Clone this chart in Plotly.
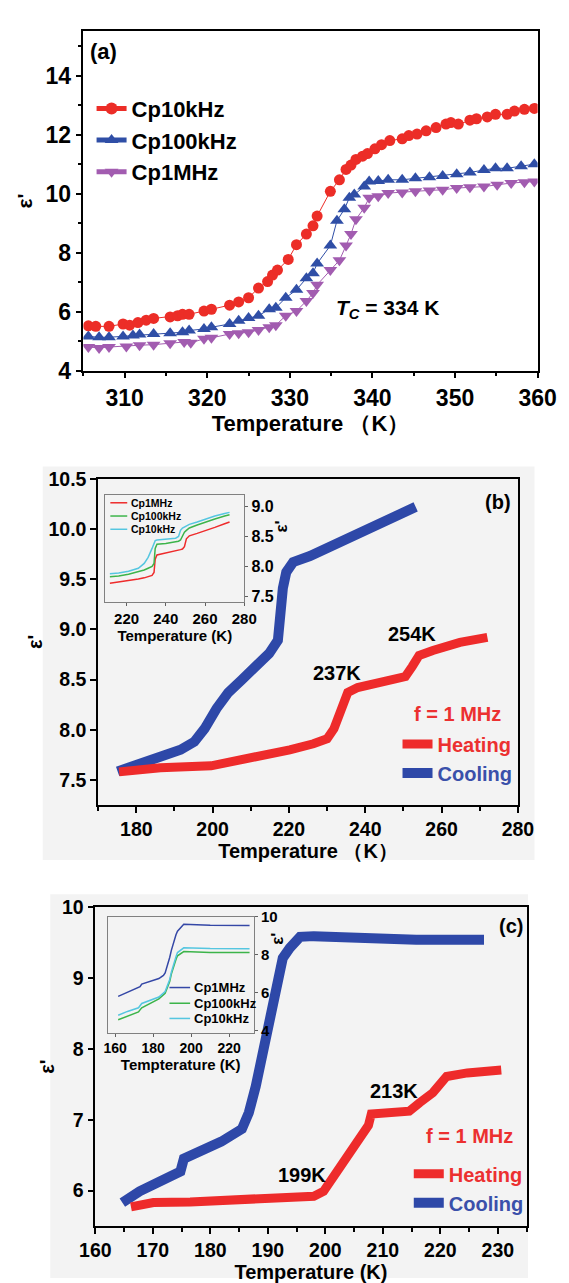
import plotly.graph_objects as go

FONT = "Liberation Sans, Arial, sans-serif"

# ---------------- Panel (a): epsilon' vs T at three frequencies ----------------
a_t_10k = [305.6, 306.5, 308.1, 309.8, 310.6, 311.6, 312.6, 313.5, 315.5, 316.4, 317.0, 317.8,
           319.6, 320.5, 322.7, 323.8, 325.0, 326.2, 327.3, 327.9, 328.5, 329.8, 330.8, 332.0,
           332.8, 333.3, 334.9, 336.0, 336.8, 337.4, 338.0, 338.8, 339.4, 340.3, 341.1, 342.1,
           343.6, 344.4, 345.4, 346.5, 347.7, 348.9, 349.5, 350.4, 351.8, 352.6, 353.9, 354.9,
           356.3, 357.2, 358.4, 359.6]
a_eps_10k = [5.52, 5.50, 5.50, 5.58, 5.54, 5.63, 5.71, 5.77, 5.82, 5.86, 5.91, 5.91,
             6.02, 6.08, 6.22, 6.33, 6.47, 6.80, 7.02, 7.24, 7.41, 7.77, 8.27, 8.63,
             8.91, 9.24, 10.08, 10.47, 10.82, 10.97, 11.16, 11.27, 11.36, 11.52, 11.66, 11.80,
             11.86, 11.97, 12.02, 12.13, 12.24, 12.36, 12.41, 12.36, 12.49, 12.54, 12.60, 12.69,
             12.69, 12.80, 12.86, 12.89]

a_t_100k = [305.6, 306.9, 308.1, 309.8, 311.0, 311.8, 313.5, 315.5, 317.0, 317.8, 319.6, 320.5,
            322.7, 323.8, 325.0, 326.2, 327.5, 328.3, 329.5, 330.8, 332.0, 332.8, 333.3, 334.9,
            335.7, 336.6, 337.2, 337.8, 339.0, 339.6, 340.7, 341.9, 343.6, 345.2, 346.9, 348.5,
            350.2, 351.8, 353.5, 354.9, 356.3, 358.0, 359.6]
a_eps_100k = [5.16, 5.13, 5.13, 5.16, 5.19, 5.22, 5.24, 5.27, 5.30, 5.36, 5.41, 5.47,
              5.58, 5.69, 5.78, 5.86, 6.08, 6.13, 6.47, 6.74, 7.13, 7.30, 7.63, 8.24,
              9.08, 9.47, 9.86, 9.97, 10.24, 10.41, 10.43, 10.47, 10.47, 10.52, 10.56, 10.60,
              10.66, 10.72, 10.80, 10.86, 10.86, 10.93, 11.00]

a_t_1m = [305.6, 306.9, 308.1, 310.2, 311.8, 313.5, 315.5, 317.2, 318.0, 319.6, 320.5, 322.7,
          323.8, 325.0, 326.2, 327.5, 328.3, 329.5, 330.8, 332.0, 332.8, 333.3, 334.9, 336.0,
          336.8, 337.4, 338.0, 339.0, 339.6, 340.7, 341.9, 343.6, 345.2, 346.9, 348.5, 350.2,
          351.8, 353.5, 355.1, 356.8, 358.4, 359.6]
a_eps_1m = [4.80, 4.77, 4.80, 4.82, 4.86, 4.88, 4.93, 4.97, 4.94, 5.08, 5.11, 5.24,
            5.27, 5.30, 5.38, 5.47, 5.54, 5.86, 6.02, 6.36, 6.63, 6.91, 7.41, 7.74,
            8.24, 8.63, 9.13, 9.52, 9.86, 9.91, 10.02, 10.04, 10.08, 10.11, 10.13, 10.19,
            10.22, 10.24, 10.30, 10.36, 10.39, 10.41]

# ---------------- Panel (b): heating / cooling at 1 MHz ----------------
b_t_cool = [175.1, 180.0, 186.3, 191.6, 195.2, 197.9, 201.0, 204.1, 207.7, 211.3, 214.8, 217.1,
            217.5, 218.4, 219.3, 221.1, 225.5, 230.9, 236.3, 241.6, 247.0, 253.2]
b_eps_cool = [7.585, 7.65, 7.72, 7.80, 7.88, 8.01, 8.21, 8.37, 8.50, 8.63, 8.76, 8.89,
              9.15, 9.41, 9.57, 9.67, 9.73, 9.83, 9.93, 10.03, 10.12, 10.22]
b_t_heat = [175.5, 186.3, 199.6, 204.1, 213.0, 220.2, 226.4, 230.0, 231.8, 233.6, 235.4, 238.0,
            244.3, 250.5, 252.3, 254.1, 257.7, 264.8, 272.0]
b_eps_heat = [7.58, 7.62, 7.64, 7.67, 7.73, 7.80, 7.86, 7.91, 8.01, 8.21, 8.37, 8.42,
              8.47, 8.53, 8.63, 8.74, 8.79, 8.87, 8.92]

# inset (b)
bi_names = ["Cp1MHz", "Cp100kHz", "Cp10kHz"]
bi_t = [211.5, 216, 221, 226, 229, 231, 233, 234, 234.6, 235.5, 240, 245, 246.5, 247.5,
        248.5, 249.5, 250.5, 252, 256, 260, 265, 270, 272.5]
bi_eps_1m = [7.72, 7.74, 7.76, 7.79, 7.81, 7.83, 7.85, 7.90, 8.12, 8.19, 8.22, 8.26, 8.27, 8.28,
             8.29, 8.33, 8.46, 8.51, 8.55, 8.60, 8.65, 8.71, 8.74]
bi_eps_100k = [7.83, 7.84, 7.87, 7.91, 7.94, 7.97, 8.00, 8.05, 8.30, 8.37, 8.38, 8.41, 8.42, 8.44,
               8.52, 8.57, 8.60, 8.64, 8.69, 8.74, 8.79, 8.84, 8.86]
bi_eps_10k = [7.88, 7.89, 7.92, 7.97, 8.05, 8.15, 8.30, 8.40, 8.43, 8.44, 8.45, 8.47, 8.50, 8.60,
              8.64, 8.66, 8.68, 8.70, 8.74, 8.79, 8.84, 8.88, 8.90]

# ---------------- Panel (c): heating / cooling at 1 MHz ----------------
c_t_cool = [164.7, 167.7, 171.3, 174.8, 175.4, 178.4, 181.9, 185.5, 186.7, 187.9, 189.7, 191.4,
            192.6, 193.8, 195.6, 198.0, 206.9, 215.8, 227.6]
c_eps_cool = [5.83, 5.99, 6.13, 6.27, 6.45, 6.55, 6.69, 6.87, 7.10, 7.47, 8.12, 8.77,
              9.28, 9.42, 9.58, 9.59, 9.56, 9.54, 9.54]
c_t_heat = [166.2, 170.1, 176.5, 187.1, 198.0, 199.7, 202.1, 204.5, 206.3, 207.5, 208.0, 211.6,
            214.6, 216.4, 218.7, 221.1, 224.7, 230.6]
c_eps_heat = [5.77, 5.83, 5.84, 5.87, 5.92, 5.99, 6.27, 6.55, 6.73, 6.92, 7.08, 7.10,
              7.12, 7.24, 7.38, 7.61, 7.66, 7.70]

# inset (c)
ci_names = ["Cp1MHz", "Cp100kHz", "Cp10kHz"]
ci_t = [161.6, 166.5, 172.3, 173.1, 174.0, 183.0, 185.4, 186.3, 188.7, 189.6, 192.0, 192.8,
        196.1, 210.0, 230.7]
ci_eps_1m = [5.81, 6.02, 6.28, 6.32, 6.46, 6.75, 6.92, 7.05, 7.86, 8.25, 9.06, 9.25,
             9.61, 9.56, 9.54]
ci_eps_100k = [4.58, 4.78, 4.99, 5.10, 5.21, 5.68, 5.90, 5.98, 6.60, 7.00, 7.75, 7.95,
               8.17, 8.12, 8.12]
ci_eps_10k = [4.82, 5.02, 5.21, 5.33, 5.44, 5.78, 6.00, 6.07, 6.70, 7.10, 7.90, 8.12,
              8.37, 8.33, 8.32]

RED = "#ec2d27"
BLUE = "#2f4ea6"
PURPLE = "#a25cb0"
H_RED = "#ee2b2b"
C_BLUE = "#2e48a8"
G_GREEN = "#3cb44a"
CYAN = "#55c6e0"
BI_COLORS = [H_RED, G_GREEN, CYAN]
CI_COLORS = ["#3447a6", G_GREEN, CYAN]

W, H = 569, 1283


def px_x(p):
    return p / W


def px_y(p):
    return 1 - p / H


fig = go.Figure()

# Panel (a)
fig.add_trace(go.Scatter(x=a_t_1m, y=a_eps_1m, name="Cp1MHz", mode="lines+markers",
                         line=dict(color=PURPLE, width=1),
                         marker=dict(symbol="triangle-down", size=12, color=PURPLE),
                         xaxis="x", yaxis="y", legend="legend", legendrank=3))
fig.add_trace(go.Scatter(x=a_t_100k, y=a_eps_100k, name="Cp100kHz", mode="lines+markers",
                         line=dict(color=BLUE, width=1),
                         marker=dict(symbol="triangle-up", size=12, color=BLUE),
                         xaxis="x", yaxis="y", legend="legend", legendrank=2))
fig.add_trace(go.Scatter(x=a_t_10k, y=a_eps_10k, name="Cp10kHz", mode="lines+markers",
                         line=dict(color=RED, width=1),
                         marker=dict(symbol="circle", size=11, color=RED),
                         xaxis="x", yaxis="y", legend="legend", legendrank=1))

# Panel (b) main
fig.add_trace(go.Scatter(x=b_t_cool, y=b_eps_cool, name="<span style='color:#3a50aa'>Cooling</span>",
                         mode="lines", line=dict(color=C_BLUE, width=10),
                         xaxis="x2", yaxis="y2", legend="legend2", legendrank=2))
fig.add_trace(go.Scatter(x=b_t_heat, y=b_eps_heat, name="<span style='color:#ec3030'>Heating</span>",
                         mode="lines", line=dict(color=H_RED, width=9),
                         xaxis="x2", yaxis="y2", legend="legend2", legendrank=1))
# inset (b)
for vals, nm, col in zip([bi_eps_1m, bi_eps_100k, bi_eps_10k], bi_names, BI_COLORS):
    fig.add_trace(go.Scatter(x=bi_t, y=vals, name=nm, mode="lines", showlegend=False,
                             line=dict(color=col, width=1.5), xaxis="x3", yaxis="y3"))

# Panel (c) main
fig.add_trace(go.Scatter(x=c_t_cool, y=c_eps_cool, name="<span style='color:#3a50aa'>Cooling</span>",
                         mode="lines", line=dict(color=C_BLUE, width=10),
                         xaxis="x4", yaxis="y4", legend="legend5", legendrank=2))
fig.add_trace(go.Scatter(x=c_t_heat, y=c_eps_heat, name="<span style='color:#ec3030'>Heating</span>",
                         mode="lines", line=dict(color=H_RED, width=9),
                         xaxis="x4", yaxis="y4", legend="legend5", legendrank=1))
# inset (c)
for vals, nm, col in zip([ci_eps_1m, ci_eps_100k, ci_eps_10k], ci_names, CI_COLORS):
    fig.add_trace(go.Scatter(x=ci_t, y=vals, name=nm, mode="lines", showlegend=False,
                             line=dict(color=col, width=1.5), xaxis="x5", yaxis="y5"))


def main_axis(size, **kw):
    d = dict(showline=True, linecolor="black", linewidth=1.6, mirror=True,
             ticks="outside", ticklen=6, tickwidth=1.5, tickcolor="black",
             showgrid=False, zeroline=False,
             tickfont=dict(family=FONT, size=size, color="black", weight="bold"))
    d.update(kw)
    return d


def inset_axis(size, **kw):
    d = dict(showline=True, linecolor="#808080", linewidth=1, mirror=True,
             ticks="outside", ticklen=3, tickwidth=1, tickcolor="#606060",
             showgrid=False, zeroline=False,
             tickfont=dict(family=FONT, size=size, color="black", weight="bold"))
    d.update(kw)
    return d


def title(text, size, standoff):
    return dict(text=text, font=dict(family=FONT, size=size, color="black", weight="bold"),
                standoff=standoff)


MINOR = dict(ticks="outside", ticklen=4, tickwidth=1.5, tickcolor="black")

fig.update_layout(
    width=W, height=H, margin=dict(l=0, r=0, t=0, b=0),
    paper_bgcolor="white", plot_bgcolor="rgba(0,0,0,0)",
    showlegend=True,
    # panel (a)
    xaxis=main_axis(23, domain=[px_x(63.3), px_x(547.3)], anchor="y", range=[305, 360],
                    dtick=10, minor=dict(dtick=5, **MINOR),
                    title=title("Temperature （K）", 22, 1)),
    yaxis=main_axis(23, domain=[px_y(358.3), px_y(12.7)], anchor="x", range=[4, 15.5],
                    dtick=2, minor=dict(dtick=1, **MINOR),
                    title=title("ε'", 21, 7)),
    # panel (b)
    xaxis2=main_axis(19.5, domain=[px_x(79), px_x(526.3)], anchor="y2", range=[170, 280],
                     dtick=20, minor=dict(dtick=10, **MINOR),
                     title=title("Temperature （K）", 20, 3)),
    yaxis2=main_axis(19.5, domain=[px_y(801), px_y(468.5)], anchor="x2", range=[7.25, 10.5],
                     dtick=0.5, tickformat=".1f", title=title("ε'", 20, 0)),
    xaxis3=inset_axis(15, domain=[px_x(86.7), px_x(234.7)], anchor="y3", range=[209.2, 280],
                      dtick=20, title=title("Temperature (K)", 15, 4)),
    yaxis3=inset_axis(16, domain=[px_y(594), px_y(485)], anchor="x3", range=[7.41, 9.19],
                      side="right", dtick=0.5, tickformat=".1f"),
    # panel (c)
    xaxis4=main_axis(19.5, domain=[px_x(76), px_x(535.5)], anchor="y4", range=[160, 235],
                     dtick=10, minor=dict(dtick=5, **MINOR),
                     title=title("Temperature (K)", 20, 2)),
    yaxis4=main_axis(19.5, domain=[px_y(1230), px_y(905)], anchor="x4", range=[5.5, 10],
                     dtick=1, title=title("ε'", 20, 2)),
    xaxis5=inset_axis(14, domain=[px_x(89), px_x(245)], anchor="y5", range=[156, 233],
                      dtick=20, title=title("Tempterature (K)", 15, 4)),
    yaxis5=inset_axis(15, domain=[px_y(1033), px_y(915)], anchor="x5", range=[3.9, 10],
                      side="right", dtick=2),
    legend=dict(x=px_x(72), y=px_y(70), xanchor="left", yanchor="top",
                bgcolor="rgba(0,0,0,0)", font=dict(family=FONT, size=22, color="black", weight="bold"),
                tracegroupgap=0, itemsizing="constant"),
    legend2=dict(x=px_x(398), y=px_y(719), xanchor="left", yanchor="top",
                 bgcolor="rgba(0,0,0,0)", font=dict(family=FONT, size=20, weight="bold"),
                 tracegroupgap=0),
    legend5=dict(x=px_x(410), y=px_y(1157), xanchor="left", yanchor="top",
                 bgcolor="rgba(0,0,0,0)", font=dict(family=FONT, size=20, weight="bold"),
                 tracegroupgap=0),
)

# light grey scanned backgrounds behind panels (b) and (c)
fig.add_shape(type="rect", xref="paper", yref="paper", x0=px_x(20), x1=px_x(544),
              y0=px_y(857), y1=px_y(456), fillcolor="#f3f3f3", line=dict(width=0), layer="below")
fig.add_shape(type="rect", xref="paper", yref="paper", x0=px_x(28), x1=px_x(537),
              y0=px_y(1283), y1=px_y(892), fillcolor="#f3f3f3", line=dict(width=0), layer="below")


def ann(text, x, y, xref, yref, size, color="black", xanchor="center", angle=0):
    fig.add_annotation(text=text, x=x, y=y, xref=xref, yref=yref, showarrow=False,
                       xanchor=xanchor, yanchor="middle", textangle=angle,
                       font=dict(family=FONT, size=size, color=color, weight="bold"))


# compact inset legends (key line + label)
def inset_legend(names, colors, x0, x1, ys, size):
    for nm, col, yy in zip(names, colors, ys):
        fig.add_shape(type="line", xref="paper", yref="paper", x0=px_x(x0), x1=px_x(x1),
                      y0=px_y(yy), y1=px_y(yy), line=dict(color=col, width=1.5))
        ann(nm, px_x(x1 + 2), px_y(yy), "paper", "paper", size, xanchor="left")


inset_legend(bi_names, BI_COLORS, 92, 110, [493, 506.5, 520], 10.5)
inset_legend(ci_names, CI_COLORS, 155, 177, [987, 1003, 1018.5], 13)

ann("(a)", 307.4, 14.81, "x", "y", 22)
ann("<i>T</i><i><sub>C</sub></i> = 334 K", 335.3, 6.1, "x", "y", 21, xanchor="left")

ann("(b)", 274.8, 10.27, "x2", "y2", 20)
ann("237K", 232.7, 8.56, "x2", "y2", 20)
ann("254K", 252.2, 8.95, "x2", "y2", 20)
ann("f = 1 MHz", 264.2, 8.16, "x2", "y2", 20, color="#ec3030")
ann("ε'", px_x(274), px_y(517), "paper", "paper", 17, angle=-90)

ann("(c)", 232.3, 9.74, "x4", "y4", 20)
ann("213K", 211.9, 7.41, "x4", "y4", 20)
ann("199K", 195.9, 6.22, "x4", "y4", 20)
ann("f = 1 MHz", 225.0, 6.77, "x4", "y4", 20, color="#ec3030")
ann("ε'", px_x(270), px_y(937), "paper", "paper", 17, angle=-90)

fig.write_html("out.html")
